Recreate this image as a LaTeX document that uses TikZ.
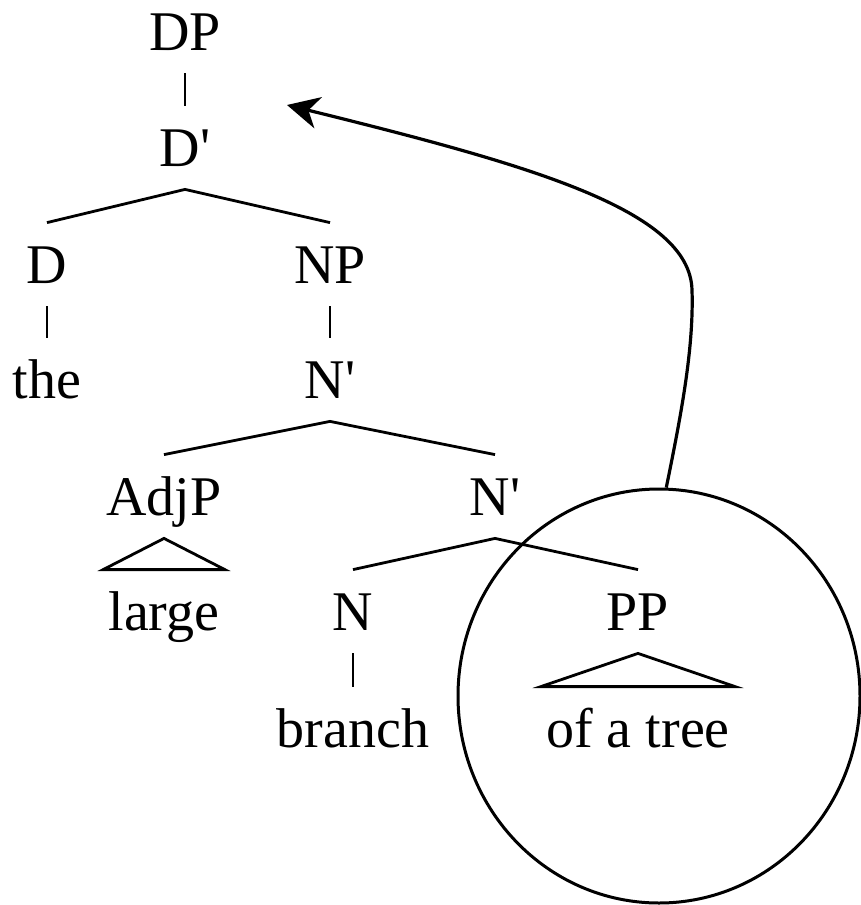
\documentclass[tikz,border=0pt]{standalone}
\usepackage{fontspec}
\setmainfont{Liberation Serif}
\usetikzlibrary{arrows.meta,shapes.geometric}
\begin{document}
\begin{tikzpicture}[x=0.5pt,y=-0.5pt,line width=1.4pt,
  lbl/.style={anchor=base,inner xsep=2pt,inner ysep=11pt,text height=18.5pt,text depth=0pt,font=\fontsize{28}{30}\selectfont}]
\useasboundingbox (0,0) rectangle (861,905);
\node [lbl] (dp) at (185,50) {DP}; \node [lbl] (dbar) at (185,166) {D\textquotesingle};
\node [lbl] (d) at (47,283) {D}; \node [lbl] (np) at (330,283) {NP};
\node [lbl] (the) at (47,398) {the}; \node [lbl] (nbar) at (330,398) {N\textquotesingle};
\node [lbl] (adjp) at (164,515) {AdjP}; \node [lbl] (nbarb) at (495,515) {N\textquotesingle};
\node [lbl] (large) at (164,630) {large}; \node [lbl] (n) at (353,630) {N}; \node [lbl] (pp) at (638,630) {PP};
\node [lbl] (branch) at (353,747) {branch}; \node [lbl] (tree) at (638,747) {of a tree};
\draw (dp.south) -- (dbar.north); \draw (d.north) -- (dbar.south) -- (np.north);
\draw (d.south) -- (the.north); \draw (np.south) -- (nbar.north);
\draw (adjp.north) -- (nbar.south) -- (nbarb.north);
\draw (adjp.south) -- (large.north west) -- (large.north east) -- cycle;
\draw (n.north) -- (nbarb.south) -- (pp.north); \draw (n.south) -- (branch.north);
\draw (pp.south) -- (tree.north west) -- (tree.north east) -- cycle;
\node [draw,ellipse,line width=1.5pt,minimum width=201pt,minimum height=207pt,inner sep=0pt] (ring) at (659,696) {};
\coordinate (tip) at (287,105);
\draw [line width=1.6pt,-{Stealth[length=16pt,width=16pt,inset=5pt]}] (ring.88) .. controls (680,420) and (694,350) .. (692,290) .. controls (690,210) and (530,165) .. (tip);
\end{tikzpicture}
\end{document}
